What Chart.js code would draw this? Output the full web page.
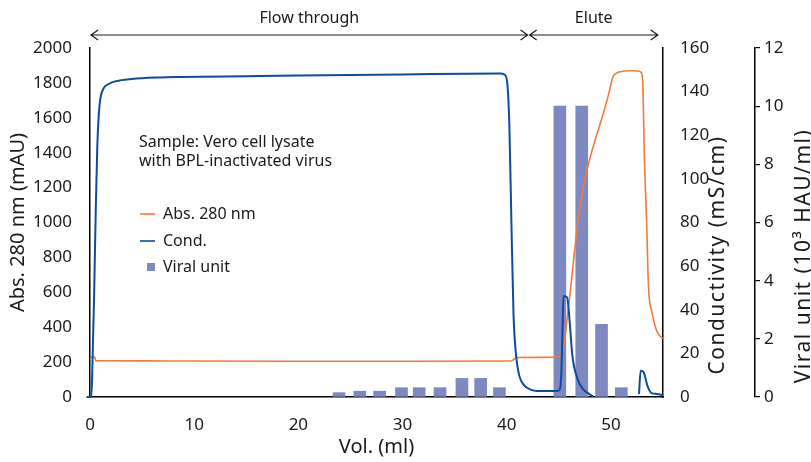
<!DOCTYPE html>
<html>
<head>
<meta charset="utf-8">
<script src="https://cdn.jsdelivr.net/npm/chart.js@4.4.1/dist/chart.umd.min.js"></script>
<style>
    html, body { margin: 0; padding: 0; background: #fff; }
    #wrap { width: 811px; height: 462px; }
</style>
</head>
<body>
<div id="wrap"><canvas id="chart" width="811" height="462"></canvas></div>
<script>
// Abs. 280 nm trace (mAU) against volume (ml)
let absVol = [0.05, 0.45, 0.55, 5, 10, 20, 30, 40.4, 40.6, 41.0, 43, 45.2, 45.5, 45.8, 46.2, 46.5, 46.8, 47.2, 47.6,
              48.4, 49.3, 49.8, 50.2, 50.5, 50.9, 51.8, 52.6, 52.9, 53.05, 53.2, 53.45, 53.6, 53.95, 54.4, 54.85, 55];
let absVal = [229, 229, 208, 207, 206, 205, 205, 206, 212, 226, 227, 232, 300, 450, 660, 830, 990, 1150, 1275,
              1455, 1630, 1740, 1835, 1855, 1864, 1870, 1868, 1860, 1815, 1400, 960, 640, 485, 378, 342, 337];

// Conductivity trace (mS/cm)
let condVol = [-0.36, -0.34, 0.12, 0.2, 0.4, 0.55, 0.7, 0.85, 1.0, 1.3, 1.8, 2.5, 4, 6.7, 8.6, 15, 20, 30, 39.4,
               39.8, 40.05, 40.25, 40.45, 40.65, 40.9, 41.2, 41.7, 42.3, 42.9, 44.8, 45.1, 45.25, 45.35, 45.45, 45.8,
               46.0, 46.3, 46.8, 47.3, 47.9, 48.3, 48.35, 52.6, 52.7, 52.85, 53.15, 53.5, 53.9, 54.4, 55];
let condVal = [10.5, 0, 0, 8, 48, 85, 115, 130, 137, 141.5, 143.5, 144.8, 145.8, 146.5, 146.7, 147.1, 147.4, 147.9, 148.3,
               147.8, 144, 125, 80, 38, 19, 9.8, 5.2, 3.4, 2.8, 2.8, 3.6, 12, 30, 46.3, 45.7,
               37, 19, 8.2, 3.7, 1.4, 0.3, null, null, 1.4, 12, 11.3, 5.2, 1.8, 1.4, 0.8];

// Viral unit per collected fraction (10^3 HAU/ml)
let fracVol = [23.9, 25.9, 27.8, 29.9, 31.6, 33.6, 35.7, 37.5, 39.3, 45.1, 47.2, 49.1, 51.0];
let viralUnit = [0.15, 0.2, 0.2, 0.32, 0.32, 0.32, 0.64, 0.64, 0.32, 10.0, 10.0, 2.5, 0.32];

// phase brackets above the plot
let phaseNames = ['Flow through', 'Elute'];
let phaseStart = [0.1, 42.2];
let phaseEnd = [42.0, 54.5];

let sampleNote = ['Sample: Vero cell lysate', 'with BPL-inactivated virus'];

const FONT = "'Noto Sans', 'Open Sans', sans-serif";
const INK = '#1a1a1a';

Chart.defaults.font.family = FONT;
Chart.defaults.font.size = 17;
Chart.defaults.color = INK;

function toPoints(xs, ys) {
    return xs.map((v, i) => ({x: v, y: ys[i]}));
}

let plainTick = v => String(v);

// texts, brackets and legend drawn inside/around the plot
const overlay = {
    id: 'overlay',
    afterDraw(chart) {
        let ctx = chart.ctx;
        let xs = chart.scales.x;
        ctx.save();
        ctx.fillStyle = INK;
        ctx.strokeStyle = INK;
        ctx.lineWidth = 1.2;
        ctx.font = '16px ' + FONT;
        ctx.textAlign = 'center';
        ctx.textBaseline = 'middle';

        for (let i = 0; i < phaseNames.length; i++) {
            let x0 = xs.getPixelForValue(phaseStart[i]);
            let x1 = xs.getPixelForValue(phaseEnd[i]);
            let y = 35;
            ctx.beginPath();
            ctx.moveTo(x0, y); ctx.lineTo(x1, y);
            ctx.moveTo(x0 + 7, y - 5); ctx.lineTo(x0, y); ctx.lineTo(x0 + 7, y + 5);
            ctx.moveTo(x1 - 7, y - 5); ctx.lineTo(x1, y); ctx.lineTo(x1 - 7, y + 5);
            ctx.stroke();
            ctx.fillText(phaseNames[i], (x0 + x1) / 2, 18);
        }

        // sample note
        ctx.textAlign = 'left';
        sampleNote.forEach((t, i) => ctx.fillText(t, 139, 142 + i * 19));

        // legend
        let rows = [214, 241, 267];
        chart.data.datasets.forEach((ds, i) => {
            let y = rows[i];
            if (ds.type === 'bar') {
                ctx.fillStyle = ds.backgroundColor;
                ctx.fillRect(147, y - 4, 8, 8);
            } else {
                ctx.strokeStyle = ds.borderColor;
                ctx.lineWidth = 1.6;
                ctx.beginPath();
                ctx.moveTo(140, y); ctx.lineTo(155, y);
                ctx.stroke();
            }
            ctx.fillStyle = INK;
            ctx.fillText(ds.label, 163, y);
        });

        // right-hand axis titles, reading bottom to top
        ctx.textAlign = 'center';
        let titles = [['Conductivity (mS/cm)', chart.scales.y1.left + 55, 255, 21, '1.5px'],
                      ['Viral unit (10\u00B3 HAU/ml)', chart.scales.y2.left + 49, 256, 21, '1.5px']];
        titles.forEach(([t, x, y, size, spacing]) => {
            ctx.save();
            ctx.font = size + 'px ' + FONT;
            ctx.letterSpacing = spacing;
            ctx.translate(x, y);
            ctx.rotate(-Math.PI / 2);
            ctx.fillText(t, 0, 0);
            ctx.restore();
        });
        ctx.restore();
    }
};

let ctx = document.getElementById('chart').getContext('2d');
let chart = new Chart(ctx, {
    type: 'line',
    data: {
        datasets: [{
            type: 'line',
            label: 'Abs. 280 nm',
            data: toPoints(absVol, absVal),
            yAxisID: 'y',
            borderColor: '#F27B3C',
            borderWidth: 1.6,
            pointRadius: 0,
            cubicInterpolationMode: 'monotone',
            order: 1
        }, {
            type: 'line',
            label: 'Cond.',
            data: toPoints(condVol, condVal),
            yAxisID: 'y1',
            borderColor: '#0D4C9C',
            borderWidth: 2,
            pointRadius: 0,
            cubicInterpolationMode: 'monotone',
            spanGaps: false,
            clip: {left: 6, top: 2, right: 2, bottom: 2},
            order: 0
        }, {
            type: 'bar',
            label: 'Viral unit',
            data: toPoints(fracVol, viralUnit),
            yAxisID: 'y2',
            backgroundColor: '#7F89C1',
            barThickness: 12,
            order: 2
        }]
    },
    options: {
        responsive: false,
        animation: false,
        layout: {padding: {top: 48, left: 0, right: 0, bottom: 0}},
        plugins: {legend: {display: false}, tooltip: {enabled: false}},
        scales: {
            x: {
                type: 'linear',
                min: 0, max: 55,
                offset: false,
                grid: {display: false},
                border: {color: '#000', width: 1.5},
                ticks: {stepSize: 10, includeBounds: false, padding: 10, maxRotation: 0, callback: plainTick},
                title: {display: true, text: 'Vol. (ml)', font: {size: 20}, padding: {top: 0, bottom: 3}},
                afterFit: s => { s.height = 65; }
            },
            y: {
                position: 'left',
                min: 0, max: 2000,
                grid: {display: false},
                border: {color: '#000', width: 1.5},
                ticks: {stepSize: 200, padding: 10, callback: plainTick},
                title: {display: true, text: 'Abs. 280 nm (mAU)', font: {size: 20}, padding: {top: 6, bottom: 0}},
                afterFit: s => { s.width = 90; }
            },
            y1: {
                position: 'right',
                min: 0, max: 160,
                grid: {display: false},
                border: {color: '#000', width: 1.5},
                ticks: {stepSize: 20, padding: 9, callback: plainTick},
                afterFit: s => { s.width = 92; }
            },
            y2: {
                position: 'right',
                min: 0, max: 12,
                grid: {drawOnChartArea: false, drawTicks: true, tickLength: 5, color: '#000', lineWidth: 1.2},
                border: {color: '#000', width: 1.5},
                ticks: {stepSize: 2, padding: 4, callback: plainTick},
                afterFit: s => { s.width = 56; }
            }
        }
    },
    plugins: [overlay]
});
</script>
</body>
</html>
